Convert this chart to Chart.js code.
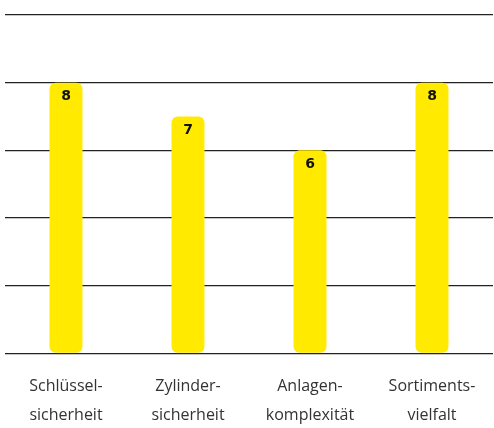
<!DOCTYPE html>
<html>
<head>
<meta charset="utf-8">
<script src="https://cdn.jsdelivr.net/npm/chart.js@4/dist/chart.umd.min.js"></script>
<style>
  html, body { margin: 0; padding: 0; background: #fff; }
  #wrap { width: 494px; height: 428px; }
</style>
</head>
<body>
<div id="wrap"><canvas id="chart"></canvas></div>
<script>
  const categories = [
    ['Schlüssel-', 'sicherheit'],
    ['Zylinder-', 'sicherheit'],
    ['Anlagen-', 'komplexität'],
    ['Sortiments-', 'vielfalt'],
  ];
  const scores = [8, 7, 6, 8];
  const yTicks = [0, 2, 4, 6, 8, 10];

  // draws the value near the top inside each bar
  const valueLabels = {
    id: 'valueLabels',
    afterDatasetsDraw(chart) {
      const { ctx } = chart;
      const meta = chart.getDatasetMeta(0);
      ctx.save();
      ctx.font = 'bold 14px "DejaVu Sans", sans-serif';
      ctx.fillStyle = '#111';
      ctx.textAlign = 'center';
      ctx.textBaseline = 'middle';
      meta.data.forEach((bar, i) => {
        ctx.fillText(String(scores[i]), bar.x, bar.y + 14);
      });
      ctx.restore();
    },
  };

  new Chart(document.getElementById('chart'), {
    type: 'bar',
    data: {
      labels: categories,
      datasets: [
        {
          data: scores,
          backgroundColor: '#ffea00',
          borderRadius: 6,
          borderSkipped: false,
          barPercentage: 0.27,
          categoryPercentage: 1,
        },
      ],
    },
    options: {
      animation: false,
      responsive: true,
      maintainAspectRatio: false,
      layout: { padding: { top: 15, left: 5, right: 1, bottom: -13 } },
      plugins: { legend: { display: false }, tooltip: { enabled: false } },
      scales: {
        x: {
          grid: { display: false },
          border: { display: false },
          ticks: {
            color: '#333',
            font: { family: '"Open Sans", sans-serif', size: 16, lineHeight: 1.8 },
            padding: 11,
            maxRotation: 0,
          },
        },
        y: {
          min: 0,
          max: 10,
          afterBuildTicks(axis) {
            axis.ticks = yTicks.map((v) => ({ value: v }));
          },
          ticks: { display: false },
          border: { display: false },
          grid: { color: '#222', lineWidth: 1.3, drawTicks: false },
        },
      },
    },
    plugins: [valueLabels],
  });
</script>
</body>
</html>
